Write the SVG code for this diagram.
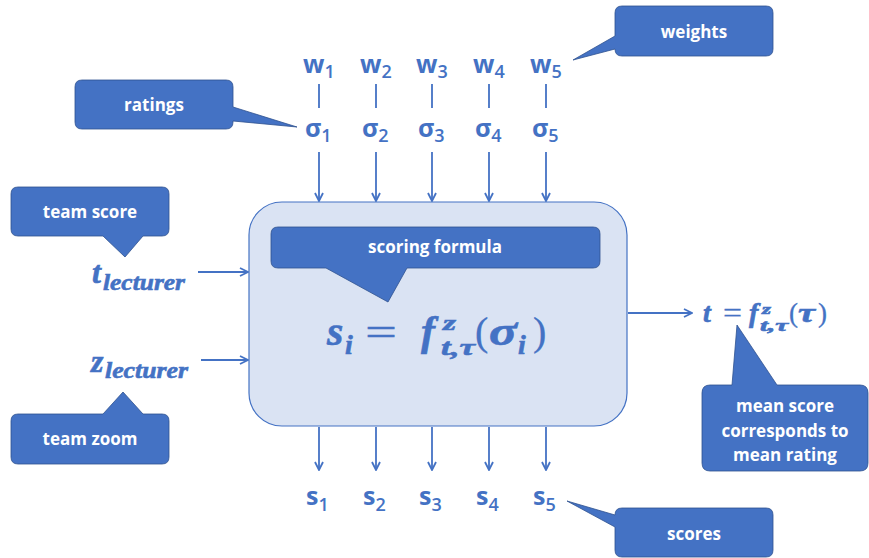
<svg xmlns="http://www.w3.org/2000/svg" width="869" height="558" viewBox="0 0 869 558">
<defs>
<marker id="ah" viewBox="0 0 10 10" refX="9" refY="5" markerWidth="10" markerHeight="10" markerUnits="userSpaceOnUse" orient="auto">
<path d="M1,1 L9,5 L1,9" fill="none" stroke="#4472c4" stroke-width="1.8"/>
</marker>
</defs>
<style>
.co{fill:#4472c4;stroke:#2f528f;stroke-width:0.8}
.ct{font-family:"Open Sans","Liberation Sans",sans-serif;font-weight:bold;font-size:17px;fill:#fff;text-anchor:middle}
.lb{font-family:"Open Sans","Liberation Sans",sans-serif;font-weight:bold;font-size:25px;fill:#4472c4}
.sb{font-size:18px;font-weight:600}
.m{font-family:"Liberation Serif",serif;font-weight:bold;font-style:italic;fill:#4472c4;stroke:#4472c4;stroke-width:0.6}
.up{font-style:normal;font-weight:normal;stroke-width:0.3}
.ln{stroke:#4472c4;stroke-width:1.8;fill:none}
.ar{stroke:#4472c4;stroke-width:1.8;fill:none;marker-end:url(#ah)}
</style>
<rect width="869" height="558" fill="#fff"/>

<g id="box">
<rect x="249" y="202" width="378" height="224" rx="33" fill="#dae3f3" stroke="#4472c4" stroke-width="1.2"/>
</g>

<g id="formula">
<text class="m" font-size="42" x="327" y="345">s</text>
<text class="m" font-size="28" x="345" y="354">i</text>
<text class="m up" font-size="40" x="365" y="346" textLength="32" lengthAdjust="spacingAndGlyphs">=</text>
<text class="m" font-size="42" x="421" y="345">f</text>
<text class="m" font-size="21" x="443" y="330" textLength="13" lengthAdjust="spacingAndGlyphs">z</text>
<text class="m" font-size="24" x="441" y="355" textLength="34" lengthAdjust="spacingAndGlyphs">t,τ</text>
<text class="m up" font-size="40" x="475" y="345">(</text>
<text class="m" font-size="42" x="489" y="345" textLength="28" lengthAdjust="spacingAndGlyphs">σ</text>
<text class="m" font-size="28" x="518" y="354">i</text>
<text class="m up" font-size="40" x="533" y="345">)</text>
</g>

<g id="callout-scoring">
<path class="co" d="M278,227 H593 Q600,227 600,234 V261 Q600,268 593,268 H407 L388,302 L326,268 H278 Q271,268 271,261 V234 Q271,227 278,227 Z"/>
<text class="ct" x="435" y="253">scoring formula</text>
</g>

<g id="callout-ratings">
<path class="co" d="M82,80 H226 Q233,80 233,87 V107 L297,127 L233,121 V122 Q233,129 226,129 H82 Q75,129 75,122 V87 Q75,80 82,80 Z"/>
<text class="ct" x="154" y="111">ratings</text>
</g>

<g id="callout-weights">
<path class="co" d="M622,6 H766 Q773,6 773,13 V49 Q773,56 766,56 H622 Q615,56 615,49 L573,60 L615,36 V13 Q615,6 622,6 Z"/>
<text class="ct" x="694" y="38">weights</text>
</g>

<g id="callout-team-score">
<path class="co" d="M18,187 H162 Q169,187 169,194 V229 Q169,236 162,236 H143 L125,257 L103,236 H18 Q11,236 11,229 V194 Q11,187 18,187 Z"/>
<text class="ct" x="90" y="218">team score</text>
</g>

<g id="callout-team-zoom">
<path class="co" d="M18,414 H103 L123,392 L143,414 H162 Q169,414 169,421 V457 Q169,464 162,464 H18 Q11,464 11,457 V421 Q11,414 18,414 Z"/>
<text class="ct" x="90" y="445">team zoom</text>
</g>

<g id="callout-mean">
<path class="co" d="M710,385 H732 L737,325 L777,385 H860 Q868,385 868,393 V463 Q868,471 860,471 H710 Q702,471 702,463 V393 Q702,385 710,385 Z"/>
<text class="ct" x="785" y="412">mean score</text>
<text class="ct" x="785" y="437">corresponds to</text>
<text class="ct" x="785" y="461">mean rating</text>
</g>

<g id="callout-scores">
<path class="co" d="M622,508 H766 Q773,508 773,515 V550 Q773,557 766,557 H622 Q615,557 615,550 V527 L567,501 L615,515 Q615,508 622,508 Z"/>
<text class="ct" x="694" y="540">scores</text>
</g>

<g id="weights-labels">
<text class="lb" x="303" y="73">w<tspan class="sb" dy="5">1</tspan></text>
<text class="lb" x="360" y="73">w<tspan class="sb" dy="5">2</tspan></text>
<text class="lb" x="416" y="73">w<tspan class="sb" dy="5">3</tspan></text>
<text class="lb" x="473" y="73">w<tspan class="sb" dy="5">4</tspan></text>
<text class="lb" x="530" y="73">w<tspan class="sb" dy="5">5</tspan></text>
</g>

<g id="sigma-labels">
<text class="lb" x="305" y="137">σ<tspan class="sb" dy="5">1</tspan></text>
<text class="lb" x="362" y="137">σ<tspan class="sb" dy="5">2</tspan></text>
<text class="lb" x="418" y="137">σ<tspan class="sb" dy="5">3</tspan></text>
<text class="lb" x="475" y="137">σ<tspan class="sb" dy="5">4</tspan></text>
<text class="lb" x="532" y="137">σ<tspan class="sb" dy="5">5</tspan></text>
</g>

<g id="score-labels">
<text class="lb" x="306" y="505">s<tspan class="sb" dy="6">1</tspan></text>
<text class="lb" x="363" y="505">s<tspan class="sb" dy="6">2</tspan></text>
<text class="lb" x="419" y="505">s<tspan class="sb" dy="6">3</tspan></text>
<text class="lb" x="476" y="505">s<tspan class="sb" dy="6">4</tspan></text>
<text class="lb" x="533" y="505">s<tspan class="sb" dy="6">5</tspan></text>
</g>

<g id="t-lecturer">
<text class="m" font-size="32" x="92" y="283">t</text>
<text class="m" font-size="24" x="103" y="290" textLength="82" lengthAdjust="spacingAndGlyphs">lecturer</text>
</g>

<g id="z-lecturer">
<text class="m" font-size="32" x="91" y="372">z</text>
<text class="m" font-size="24" x="105" y="378" textLength="83" lengthAdjust="spacingAndGlyphs">lecturer</text>
</g>

<g id="t-output">
<text class="m" font-size="28" x="703" y="322">t</text>
<text class="m up" font-size="27" x="723" y="322" textLength="19" lengthAdjust="spacingAndGlyphs">=</text>
<text class="m" font-size="28" x="749" y="322">f</text>
<text class="m" font-size="14" x="762" y="314" textLength="9" lengthAdjust="spacingAndGlyphs">z</text>
<text class="m" font-size="16" x="760" y="331" textLength="28" lengthAdjust="spacingAndGlyphs">t,τ</text>
<text class="m up" font-size="27" x="789" y="322">(</text>
<text class="m" font-size="28" x="798" y="322" textLength="17" lengthAdjust="spacingAndGlyphs">τ</text>
<text class="m up" font-size="27" x="818" y="322">)</text>
</g>

<g id="connectors">
<path class="ln" d="M319,84 V108 M376,84 V108 M432,84 V108 M489,84 V108 M546,84 V108"/>
<path class="ar" d="M319,152 V201"/>
<path class="ar" d="M376,152 V201"/>
<path class="ar" d="M432,152 V201"/>
<path class="ar" d="M489,152 V201"/>
<path class="ar" d="M546,152 V201"/>
<path class="ar" d="M319,427 V470"/>
<path class="ar" d="M376,427 V470"/>
<path class="ar" d="M432,427 V470"/>
<path class="ar" d="M489,427 V470"/>
<path class="ar" d="M546,427 V470"/>
<path class="ar" d="M198,272 H248"/>
<path class="ar" d="M201,360 H248"/>
<path class="ar" d="M628,313 H692"/>
</g>
</svg>
